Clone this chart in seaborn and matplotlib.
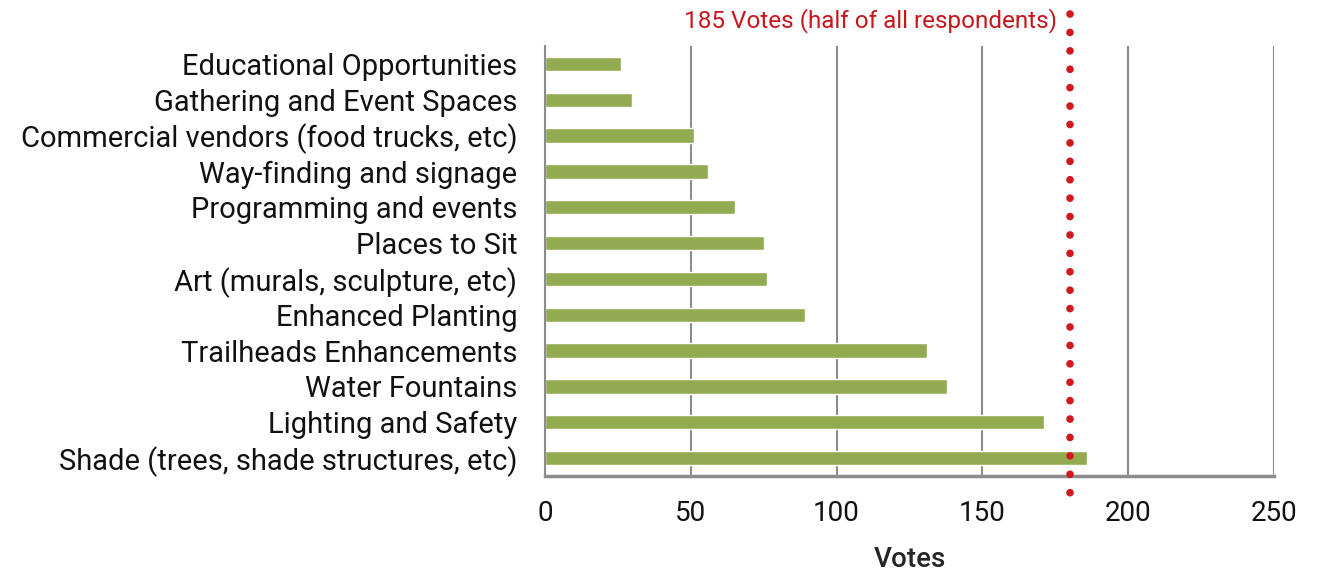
import pandas as pd
import seaborn as sns
import matplotlib.pyplot as plt
import matplotlib.transforms as mtransforms

categories = [
    "Educational Opportunities",
    "Gathering and Event Spaces",
    "Commercial vendors (food trucks, etc)",
    "Way-finding and signage",
    "Programming and events",
    "Places to Sit",
    "Art (murals, sculpture, etc)",
    "Enhanced Planting",
    "Trailheads Enhancements",
    "Water Fountains",
    "Lighting and Safety",
    "Shade (trees, shade structures, etc)",
]
votes = [26, 30, 51, 56, 65, 75, 76, 89, 131, 138, 171, 186]
x_ticks = [0, 50, 100, 150, 200, 250]
half_line = 180
half_label = "185 Votes (half of all respondents)"

sns.set_style("white")
plt.rcParams['font.family'] = ['Roboto', 'DejaVu Sans']

df = pd.DataFrame({"category": categories, "votes": votes})

fig = plt.figure(figsize=(13.35, 5.74), dpi=100)
ax = fig.add_axes([545 / 1335, 1 - 476 / 574, (1274 - 545) / 1335, (476 - 46) / 574])

sns.barplot(data=df, x="votes", y="category", orient="h", color="#93ab50",
            saturation=1, width=0.4, ax=ax)

grey = "#8c8c8c"
ax.set_xlim(0, 250)
ax.set_ylim(len(categories) - 0.5, -0.5)
ax.set_xticks(x_ticks)
ax.xaxis.grid(True, color=grey, linewidth=1.5)
ax.set_axisbelow(True)

for side in ["top", "right"]:
    ax.spines[side].set_visible(False)
ax.spines["left"].set_color(grey)
ax.spines["left"].set_linewidth(1.5)
ax.spines["bottom"].set_color(grey)
ax.spines["bottom"].set_linewidth(2.5)

ax.tick_params(axis="x", length=8, width=1.5, color=grey, labelsize=20, pad=9,
               labelcolor="#111111")
ax.tick_params(axis="y", which="major", length=0, labelsize=21, pad=20,
               labelcolor="#111111")
ax.set_yticks([i - 0.5 for i in range(len(categories) + 1)], minor=True)
ax.tick_params(axis="y", which="minor", length=7, width=1.5, color=grey)

ax.set_ylabel("")
ax.set_xlabel("Votes", fontsize=20, fontweight="medium", labelpad=14)

# dotted "half of respondents" line extending beyond the plot area
trans = mtransforms.blended_transform_factory(ax.transData, ax.transAxes)
ax.plot([half_line, half_line], [1.075, -0.04], transform=trans, clip_on=False,
        color="#d0181f", linewidth=5.5, linestyle=(0, (0.01, 2.4)),
        dash_capstyle="round", zorder=5)
ax.text(half_line - 4.5, 1.06, half_label, transform=trans, ha="right",
        va="center", color="#c8161d", fontsize=17.5)

fig.savefig("out.png", dpi=100)
